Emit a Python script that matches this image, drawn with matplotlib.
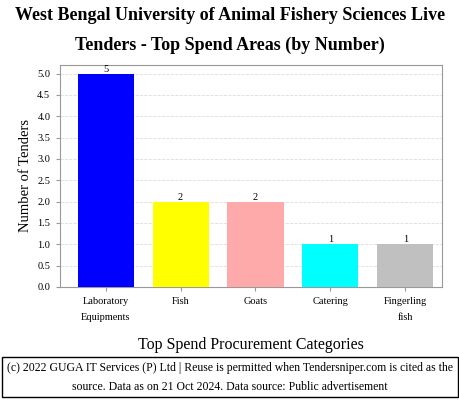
import matplotlib

matplotlib.use("Agg")
import matplotlib.pyplot as plt  # noqa: E402

categories = ["Laboratory\nEquipments", "Fish", "Goats", "Catering", "Fingerling\nfish"]
counts = [5, 2, 2, 1, 1]
bar_colors = ["#0000ff", "#ffff00", "#ffaaaa", "#00ffff", "#c0c0c0"]
yticks = [0.0, 0.5, 1.0, 1.5, 2.0, 2.5, 3.0, 3.5, 4.0, 4.5, 5.0]

plt.rcParams["font.family"] = ["Liberation Serif", "DejaVu Serif"]

fig = plt.figure(figsize=(4.6, 4.0), dpi=100)
ax = fig.add_axes([60 / 460, 1 - 287 / 400, 382 / 460, 222 / 400])

x = list(range(len(categories)))
bars = ax.bar(x, counts, width=0.75, color=bar_colors, zorder=3)
for b, v in zip(bars, counts):
    ax.text(b.get_x() + b.get_width() / 2, v, str(v), ha="center", va="bottom",
            fontsize=7.5, zorder=4)

ax.set_xlim(-0.61, 4.49)
ax.set_ylim(0, 5.2)
ax.set_yticks(yticks)
ax.set_yticklabels([f"{t:.1f}" for t in yticks], fontsize=7.5)
ax.set_xticks(x)
ax.set_xticklabels(categories, fontsize=7.5, linespacing=2.0)
ax.yaxis.grid(True, ls="--", color="#dddddd", lw=0.6, zorder=0)
ax.tick_params(axis="both", length=3, color="#999999", pad=4)
for s in ax.spines.values():
    s.set_color("#999999")

ax.set_ylabel("Number of Tenders", fontsize=10.5, labelpad=3.5)
ax.set_xlabel("Top Spend Procurement Categories", fontsize=11.5, labelpad=11)

fig.text(0.5, 1 - 15 / 400, "West Bengal University of Animal Fishery Sciences Live",
         ha="center", va="center", fontsize=13, fontweight="bold")
fig.text(0.5, 1 - 45 / 400, "Tenders - Top Spend Areas (by Number)",
         ha="center", va="center", fontsize=13, fontweight="bold")

fig.patches.append(plt.Rectangle((2 / 460, 3 / 400), 456 / 460, 40 / 400,
                                 transform=fig.transFigure, fill=False,
                                 edgecolor="black", lw=1))
fig.text(0.5, 1 - 368 / 400,
         "(c) 2022 GUGA IT Services (P) Ltd | Reuse is permitted when Tendersniper.com is cited as the",
         ha="center", va="center", fontsize=8.5)
fig.text(0.5, 1 - 387 / 400,
         "source. Data as on 21 Oct 2024. Data source: Public advertisement",
         ha="center", va="center", fontsize=8.5)

fig.savefig("out.png", dpi=100)
